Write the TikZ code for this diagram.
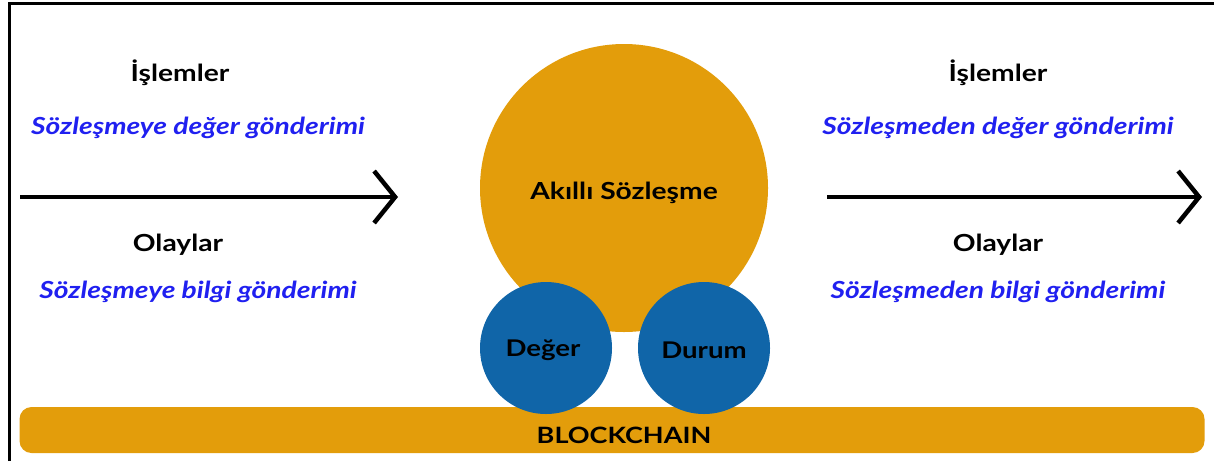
\documentclass[tikz,border=0pt]{standalone}
\usepackage{fontspec}
\setmainfont{Lato}[FakeStretch=1.2]
\usepackage{xcolor}
\usepackage{tikz}
\usetikzlibrary{arrows.meta,positioning}
\definecolor{chainorange}{RGB}{227,157,11}
\definecolor{stateblue}{RGB}{16,101,168}
\definecolor{flowblue}{RGB}{32,32,240}
\tikzset{
  contractcircle/.style={
    circle,
    fill=chainorange,
    minimum size=288pt,
    inner sep=0pt,
    font=\fontsize{23.5}{27}\selectfont\bfseries
  },
  statecircle/.style={
    circle,
    fill=stateblue,
    minimum size=132pt,
    inner sep=0pt,
    font=\fontsize{23}{27}\selectfont\bfseries
  },
  chainbar/.style={
    fill=chainorange,
    rounded corners=12pt,
    minimum width=1185pt,
    minimum height=46pt,
    inner sep=0pt
  },
  chaintext/.style={
    font=\fontsize{22.5}{26}\selectfont\bfseries
  },
  headtext/.style={
    font=\fontsize{23.5}{28}\selectfont\bfseries
  },
  flowtext/.style={
    text=flowblue,
    font=\fontsize{23.5}{27}\selectfont\bfseries\itshape
  },
  flowarrow/.style={
    -{Straight Barb[length=21pt,width=52pt]},
    line width=4.5pt
  }
}

\begin{document}
\begin{tikzpicture}[x=1pt,y=-1pt]
  \useasboundingbox (0,0) rectangle (1214,461);
  \draw[line width=3pt] (9,461) -- (9,3) -- (1214,3);

  % chain and contract
  \node[chainbar] (chain) at (612,430) {};
  \node[chaintext] (chainlabel) at (624,435) {BLOCKCHAIN};
  \node[contractcircle] (contract) at (624,188) {\raisebox{-5pt}[\height][\depth]{Akıllı Sözleşme}};
  \node[statecircle] (value) at (546,348) {\raisebox{-2pt}[\height][\depth]{Değer\hspace{6pt}}};
  \node[statecircle] (state) at (704,348) {\raisebox{-2pt}[\height][\depth]{Durum}};

  % incoming side
  \node[headtext] (txin) at (180,73) {İşlemler};
  \node[flowtext] (valin) at (198,128) {Sözleşmeye değer gönderimi};
  \node[headtext] (evin) at (178,245) {Olaylar};
  \node[flowtext] (infoin) at (198,292) {Sözleşmeye bilgi gönderimi};
  \coordinate (instart) at (20,197);
  \coordinate (inend) at (398,197);
  \draw[flowarrow] (instart) -- (inend);

  % outgoing side
  \node[headtext] (txout) at (998,73) {İşlemler};
  \node[flowtext] (valout) at (998,128) {Sözleşmeden değer gönderimi};
  \node[headtext] (evout) at (998,245) {Olaylar};
  \node[flowtext] (infoout) at (998,292) {Sözleşmeden bilgi gönderimi};
  \coordinate (outstart) at (827,197);
  \coordinate (outend) at (1202,197);
  \draw[flowarrow] (outstart) -- (outend);
\end{tikzpicture}
\end{document}
